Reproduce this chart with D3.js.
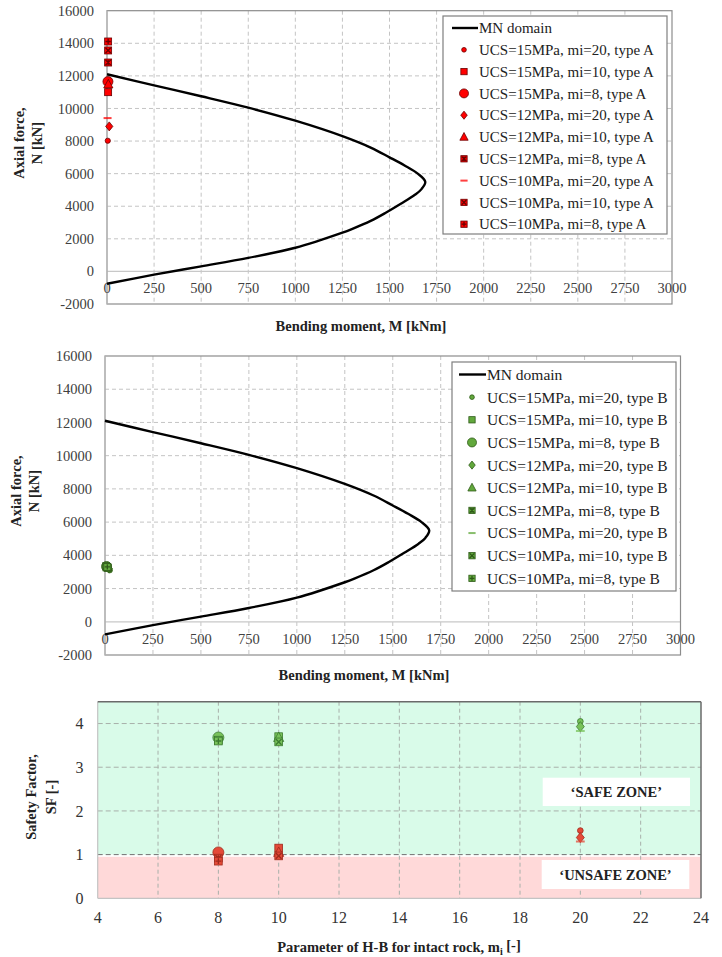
<!DOCTYPE html>
<html>
<head>
<meta charset="utf-8">
<script src="https://cdn.jsdelivr.net/npm/d3@7/dist/d3.min.js"></script>
<style>
    body { margin: 0; background: #fff; }
    svg text { font-family: "Liberation Serif", "Times New Roman", serif; }
</style>
</head>
<body>
<div id="chart"></div>
<script>
// ---- data ----
// MN interaction domain (same curve in both upper panels)
var mnMoment = [0, 250, 500, 750, 1000, 1250, 1400, 1500, 1580, 1650, 1690, 1670, 1635, 1560, 1480, 1400, 1300, 1250, 1000, 750, 500, 250, 0];
var mnAxial  = [12100, 11420, 10750, 10050, 9250, 8300, 7600, 7000, 6500, 6000, 5500, 5050, 4700, 4150, 3600, 3100, 2600, 2380, 1450, 830, 310, -200, -760];

var seriesUcs    = [15, 15, 15, 12, 12, 12, 10, 10, 10];
var seriesMi     = [20, 10, 8, 20, 10, 8, 20, 10, 8];
var seriesShapes = ["dot", "square", "circle", "diamond", "triangle", "star", "dash", "x", "plus"];

// type A (upper panel), M [kNm], N [kN]
var typeAMoment = [4, 6, 5, 12, 7, 6, 3, 6, 6];
var typeAAxial  = [8020, 11000, 11650, 8900, 11480, 12820, 9410, 13560, 14110];

// type B (middle panel)
var typeBMoment = [25, 10, 8, 20, 12, 6, 10, 14, 12];
var typeBAxial  = [3100, 3300, 3330, 3200, 3280, 3350, 3320, 3250, 3300];

// safety factor (lower panel)
var sfTypeA = [1.55, 1.15, 1.05, 1.39, 1.05, 0.92, 1.30, 0.97, 0.85];
var sfTypeB = [4.05, 3.70, 3.68, 3.93, 3.68, 3.62, 3.83, 3.58, 3.60];

var mnXTicks = d3.range(0, 3001, 250);
var mnYTicks = d3.range(-2000, 16001, 2000);
var sfXTicks = d3.range(4, 25, 2);
var sfYTicks = [0, 1, 2, 3, 4];

// ---- drawing ----
var svg = d3.select("#chart").append("svg")
    .attr("width", 722)
    .attr("height", 957);

svg.append("rect").attr("width", 722).attr("height", 957).attr("fill", "#fff");

function drawMarker(g, shape, cx, cy, fill, stroke, k) {
    var s = 3.5 * k;
    var sw = 0.8;
    function box() {
        g.append("rect")
            .attr("x", cx - s).attr("y", cy - s)
            .attr("width", 2 * s).attr("height", 2 * s)
            .attr("fill", fill).attr("stroke", stroke).attr("stroke-width", sw);
    }
    function lines(d) {
        g.append("path").attr("d", d).attr("stroke", stroke).attr("stroke-width", 1.3).attr("fill", "none");
    }
    var a = s * 0.75;
    switch (shape) {
        case "dot":
            g.append("circle").attr("cx", cx).attr("cy", cy).attr("r", 2.6 * k)
                .attr("fill", fill).attr("stroke", stroke).attr("stroke-width", sw);
            break;
        case "circle":
            g.append("circle").attr("cx", cx).attr("cy", cy).attr("r", 5 * k)
                .attr("fill", fill).attr("stroke", stroke).attr("stroke-width", sw);
            break;
        case "square":
            box();
            break;
        case "diamond":
            g.append("path")
                .attr("d", "M" + cx + "," + (cy - 4.5 * k) + "L" + (cx + 3.6 * k) + "," + cy +
                    "L" + cx + "," + (cy + 4.5 * k) + "L" + (cx - 3.6 * k) + "," + cy + "Z")
                .attr("fill", fill).attr("stroke", stroke).attr("stroke-width", sw);
            break;
        case "triangle":
            g.append("path")
                .attr("d", "M" + cx + "," + (cy - 5 * k) + "L" + (cx + 4.6 * k) + "," + (cy + 3.6 * k) +
                    "L" + (cx - 4.6 * k) + "," + (cy + 3.6 * k) + "Z")
                .attr("fill", fill).attr("stroke", stroke).attr("stroke-width", sw);
            break;
        case "star":
            box();
            lines("M" + (cx - a) + "," + (cy - a) + "L" + (cx + a) + "," + (cy + a) +
                "M" + (cx + a) + "," + (cy - a) + "L" + (cx - a) + "," + (cy + a) +
                "M" + cx + "," + (cy - a) + "L" + cx + "," + (cy + a));
            break;
        case "x":
            box();
            lines("M" + (cx - a) + "," + (cy - a) + "L" + (cx + a) + "," + (cy + a) +
                "M" + (cx + a) + "," + (cy - a) + "L" + (cx - a) + "," + (cy + a));
            break;
        case "plus":
            box();
            lines("M" + cx + "," + (cy - a) + "L" + cx + "," + (cy + a) +
                "M" + (cx - a) + "," + cy + "L" + (cx + a) + "," + cy);
            break;
        case "dash":
            g.append("rect")
                .attr("x", cx - 4 * k).attr("y", cy - 1)
                .attr("width", 8 * k).attr("height", 2)
                .attr("fill", fill).attr("opacity", 0.75);
            break;
    }
}

function mnPanel(cfg) {
    var g = svg.append("g");

    var x = d3.scaleLinear().domain([0, 3000]).range([cfg.left, cfg.right]);
    var y = d3.scaleLinear().domain([-2000, 16000]).range([cfg.bottom, cfg.top]);

    // grid
    g.selectAll(".vgrid").data(mnXTicks.filter(function(d){ return d > 0 && d < 3000; }))
        .enter().append("line")
        .attr("x1", function(d){ return x(d); }).attr("x2", function(d){ return x(d); })
        .attr("y1", cfg.top).attr("y2", cfg.bottom)
        .attr("stroke", "#c4c4c4").attr("stroke-dasharray", "4,3");
    g.selectAll(".hgrid").data(mnYTicks.filter(function(d){ return d !== 0 && d > -2000 && d < 16000; }))
        .enter().append("line")
        .attr("x1", cfg.left).attr("x2", cfg.right)
        .attr("y1", function(d){ return y(d); }).attr("y2", function(d){ return y(d); })
        .attr("stroke", "#c4c4c4").attr("stroke-dasharray", "4,3");

    // zero axis + frame
    g.append("line").attr("x1", cfg.left).attr("x2", cfg.right)
        .attr("y1", y(0)).attr("y2", y(0)).attr("stroke", "#c8c8c8").attr("stroke-width", 1.2);
    g.append("rect").attr("x", cfg.left).attr("y", cfg.top)
        .attr("width", cfg.right - cfg.left).attr("height", cfg.bottom - cfg.top)
        .attr("fill", "none").attr("stroke", "#8c8c8c").attr("stroke-width", 1.2);
    g.append("line").attr("x1", cfg.left).attr("x2", cfg.left)
        .attr("y1", cfg.top).attr("y2", cfg.bottom).attr("stroke", "#c0c0c0").attr("stroke-width", 1.2);

    // tick labels
    g.selectAll(".ytl").data(mnYTicks).enter().append("text")
        .attr("x", cfg.yLabelRight).attr("y", function(d){ return y(d); })
        .attr("dy", "0.35em").attr("text-anchor", "end")
        .attr("font-size", 14.5).attr("fill", "#404040")
        .text(function(d){ return d; });
    g.selectAll(".xtl").data(mnXTicks).enter().append("text")
        .attr("x", function(d){ return x(d); }).attr("y", y(0) + 17)
        .attr("dy", "0.35em").attr("text-anchor", "middle")
        .attr("font-size", 14.5).attr("fill", "#404040")
        .text(function(d){ return d; });

    // MN domain
    var pts = mnMoment.map(function(m, i){ return [m, mnAxial[i]]; });
    var line = d3.line()
        .x(function(d){ return x(d[0]); })
        .y(function(d){ return y(d[1]); })
        .curve(d3.curveCatmullRom.alpha(0.5));
    g.append("path").datum(pts).attr("d", line)
        .attr("fill", "none").attr("stroke", "#000").attr("stroke-width", 2.4);

    // markers
    cfg.moment.forEach(function(m, i){
        drawMarker(g, seriesShapes[i], x(m), y(cfg.axial[i]), cfg.fill, cfg.stroke, 1);
    });

    // titles
    g.append("text").attr("x", cfg.xTitleX).attr("y", cfg.xTitleY)
        .attr("dy", "0.35em").attr("text-anchor", "middle")
        .attr("font-size", 14.5).attr("font-weight", "bold").attr("fill", "#222")
        .text("Bending moment, M [kNm]");
    var yt = g.append("text")
        .attr("transform", "translate(" + cfg.yTitleX + "," + cfg.yTitleY + ") rotate(-90)")
        .attr("text-anchor", "middle").attr("font-size", 14.5)
        .attr("font-weight", "bold").attr("fill", "#222");
    yt.append("tspan").attr("x", 0).attr("y", 0).text("Axial force,");
    yt.append("tspan").attr("x", 0).attr("y", 17.5).text("N [kN]");

    // legend
    var L = cfg.legend;
    g.append("rect").attr("x", L.x0).attr("y", L.y0)
        .attr("width", L.x1 - L.x0).attr("height", L.y1 - L.y0)
        .attr("fill", "#fff").attr("stroke", "#7f7f7f").attr("stroke-width", 1.2);
    g.append("line").attr("x1", L.lineX0).attr("x2", L.lineX1)
        .attr("y1", L.row0).attr("y2", L.row0).attr("stroke", "#000").attr("stroke-width", 2.4);
    g.append("text").attr("x", L.textX).attr("y", L.row0).attr("dy", "0.35em")
        .attr("font-size", L.fs).attr("fill", "#222").text("MN domain");
    seriesShapes.forEach(function(sh, i){
        var ry = L.row0 + (i + 1) * L.step;
        drawMarker(g, sh, L.markX, ry, cfg.fill, cfg.stroke, 0.9);
        g.append("text").attr("x", L.textX).attr("y", ry).attr("dy", "0.35em")
            .attr("font-size", L.fs).attr("fill", "#222")
            .text("UCS=" + seriesUcs[i] + "MPa, mi=" + seriesMi[i] + ", type " + cfg.type);
    });
}

mnPanel({
    left: 107, right: 672, top: 10.7, bottom: 304,
    yLabelRight: 94, xTitleX: 361, xTitleY: 326,
    yTitleX: 24, yTitleY: 143,
    moment: typeAMoment, axial: typeAAxial, type: "A",
    fill: "#ff0000", stroke: "#6a0000",
    legend: { x0: 443, x1: 667, y0: 16, y1: 234, row0: 28, step: 21.8,
              lineX0: 452, lineX1: 478, markX: 464, textX: 479, fs: 15 }
});

mnPanel({
    left: 105, right: 680.5, top: 356, bottom: 655,
    yLabelRight: 92, xTitleX: 364, xTitleY: 675,
    yTitleX: 21, yTitleY: 491,
    moment: typeBMoment, axial: typeBAxial, type: "B",
    fill: "#62a83c", stroke: "#2e5a18",
    legend: { x0: 452, x1: 676, y0: 362, y1: 591, row0: 374.5, step: 22.65,
              lineX0: 459, lineX1: 486, markX: 472, textX: 487, fs: 15.5 }
});

// ---- safety factor panel ----
(function(){
    var left = 97.7, right = 701, top = 701.7, bottom = 898.3;
    var g = svg.append("g");
    var x = d3.scaleLinear().domain([4, 24]).range([left, right]);
    var y = d3.scaleLinear().domain([0, 4.5]).range([bottom, top]);

    // zones
    g.append("rect").attr("x", left).attr("y", y(4.5))
        .attr("width", right - left).attr("height", y(1) - y(4.5)).attr("fill", "#d9fbe9");
    g.append("rect").attr("x", left).attr("y", y(0.95))
        .attr("width", right - left).attr("height", y(0) - y(0.95)).attr("fill", "#ffd9d9");

    // grid
    g.selectAll(".vg").data(sfXTicks.filter(function(d){ return d > 4 && d < 24; }))
        .enter().append("line")
        .attr("x1", function(d){ return x(d); }).attr("x2", function(d){ return x(d); })
        .attr("y1", top).attr("y2", bottom)
        .attr("stroke", "#a8b0aa").attr("stroke-dasharray", "4,3");
    g.selectAll(".hg").data(sfYTicks.filter(function(d){ return d > 0; }))
        .enter().append("line")
        .attr("x1", left).attr("x2", right)
        .attr("y1", function(d){ return y(d); }).attr("y2", function(d){ return y(d); })
        .attr("stroke", function(d){ return d === 1 ? "#707070" : "#a8b0aa"; })
        .attr("stroke-dasharray", "5,3");

    // frame
    g.append("line").attr("x1", left).attr("x2", left).attr("y1", top).attr("y2", bottom)
        .attr("stroke", "#c4c4c4").attr("stroke-width", 1.2);
    g.append("line").attr("x1", left).attr("x2", right).attr("y1", bottom).attr("y2", bottom)
        .attr("stroke", "#c4c4c4").attr("stroke-width", 1.2);
    g.append("line").attr("x1", left).attr("x2", right).attr("y1", top).attr("y2", top)
        .attr("stroke", "#6a6a6a").attr("stroke-width", 1.5);
    g.append("line").attr("x1", right).attr("x2", right).attr("y1", top).attr("y2", bottom)
        .attr("stroke", "#6a6a6a").attr("stroke-width", 1.5);

    // tick labels
    g.selectAll(".yl").data(sfYTicks).enter().append("text")
        .attr("x", 83.5).attr("y", function(d){ return y(d); }).attr("dy", "0.35em")
        .attr("text-anchor", "end").attr("font-size", 16).attr("fill", "#333")
        .text(function(d){ return d; });
    g.selectAll(".xl").data(sfXTicks).enter().append("text")
        .attr("x", function(d){ return x(d); }).attr("y", 917.5).attr("dy", "0.35em")
        .attr("text-anchor", "middle").attr("font-size", 16).attr("fill", "#333")
        .text(function(d){ return d; });

    // zone labels
    function zoneBox(x0, x1, y0, y1, label) {
        g.append("rect").attr("x", x0).attr("y", y0).attr("width", x1 - x0).attr("height", y1 - y0)
            .attr("fill", "#fff");
        g.append("text").attr("x", (x0 + x1) / 2).attr("y", (y0 + y1) / 2).attr("dy", "0.35em")
            .attr("text-anchor", "middle").attr("font-size", 14.5).attr("font-weight", "bold")
            .attr("fill", "#222").text(label);
    }
    zoneBox(542.7, 690, 777.7, 806, "\u2018SAFE ZONE\u2019");
    zoneBox(541.7, 689.3, 860, 889, "\u2018UNSAFE ZONE\u2019");

    // markers
    seriesShapes.forEach(function(sh, i){
        drawMarker(g, sh, x(seriesMi[i]), y(sfTypeB[i]), "#78c25a", "#3b7a30", 1.1);
    });
    seriesShapes.forEach(function(sh, i){
        drawMarker(g, sh, x(seriesMi[i]), y(sfTypeA[i]), "#e44a38", "#9e2a1c", 1.1);
    });

    // titles
    var xt = g.append("text").attr("x", 399).attr("y", 946.5).attr("dy", "0.35em")
        .attr("text-anchor", "middle").attr("font-size", 14.5).attr("font-weight", "bold").attr("fill", "#222");
    xt.append("tspan").text("Parameter of H-B for intact rock, m");
    xt.append("tspan").attr("font-size", 10).attr("dy", "0.3em").text("i");
    xt.append("tspan").attr("dy", "-0.3em").text(" [-]");

    var yt = g.append("text")
        .attr("transform", "translate(36,797) rotate(-90)")
        .attr("text-anchor", "middle").attr("font-size", 14.5)
        .attr("font-weight", "bold").attr("fill", "#222");
    yt.append("tspan").attr("x", 0).attr("y", 0).text("Safety Factor,");
    yt.append("tspan").attr("x", 0).attr("y", 20).text("SF [-]");
})();
</script>
</body>
</html>
